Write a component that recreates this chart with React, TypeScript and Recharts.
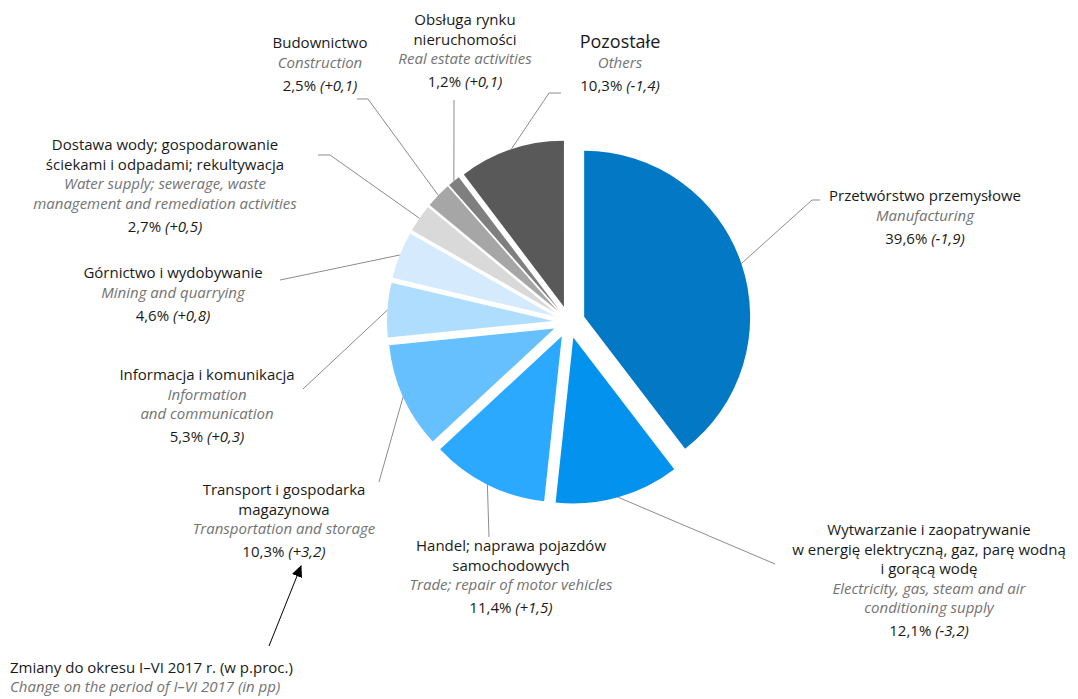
import React from 'react'
import { PieChart, Pie, Cell, Sector, Customized } from 'recharts'

// Struktura według sekcji PKD, I–VI 2018 (udział w %, zmiana w p.proc.)
const sectionsPl = [
  ['Przetwórstwo przemysłowe'],
  ['Wytwarzanie i zaopatrywanie', 'w energię elektryczną, gaz, parę wodną', 'i gorącą wodę'],
  ['Handel; naprawa pojazdów', 'samochodowych'],
  ['Transport i gospodarka', 'magazynowa'],
  ['Informacja i komunikacja'],
  ['Górnictwo i wydobywanie'],
  ['Dostawa wody; gospodarowanie', 'ściekami i odpadami; rekultywacja'],
  ['Budownictwo'],
  ['Obsługa rynku', 'nieruchomości'],
  ['Pozostałe'],
]

const sectionsEn = [
  ['Manufacturing'],
  ['Electricity, gas, steam and air', 'conditioning supply'],
  ['Trade; repair of motor vehicles'],
  ['Transportation and storage'],
  ['Information', 'and communication'],
  ['Mining and quarrying'],
  ['Water supply; sewerage, waste', 'management and remediation activities'],
  ['Construction'],
  ['Real estate activities'],
  ['Others'],
]

const shares = [39.6, 12.1, 11.4, 10.3, 5.3, 4.6, 2.7, 2.5, 1.2, 10.3]
const changes = [-1.9, -3.2, 1.5, 3.2, 0.3, 0.8, 0.5, 0.1, 0.1, -1.4]

const colors = [
  '#0379c6', '#0392ee', '#2aa9fe', '#66c0fe', '#aeddfe',
  '#d5ebfd', '#d9d9d9', '#a6a6a6', '#7f7f7f', '#595959',
]

const data = shares.map((share, i) => ({ name: sectionsEn[i][0], share }))

// where each callout sits: text centre x, first baseline y, leader elbow points
const callouts = [
  { x: 925, y: 201, leader: [[812, 200], [820, 200]] },
  { x: 929, y: 535, leader: [[775, 564]] },
  { x: 511, y: 551, leader: [[489, 537]] },
  { x: 284, y: 495, leader: [[379, 482]] },
  { x: 207, y: 380, leader: [[303, 389]] },
  { x: 173, y: 278, leader: [[280, 280]] },
  { x: 165, y: 150, leader: [[330, 155], [318, 155]] },
  { x: 320, y: 48, leader: [[368, 99], [357, 99]] },
  { x: 465, y: 25, leader: [[454, 100]] },
  { x: 620, y: 48, leader: [[549, 93], [561, 93]] },
]

const EXPLODE = 16
const LINE = 19.5
const FONT = "'Open Sans', sans-serif"

const fmt = (v: number) => v.toFixed(1).replace('.', ',')
const fmtChange = (v: number) => (v > 0 ? '+' : v < 0 ? '-' : '') + fmt(Math.abs(v))

const offsetFor = (midAngle: number) => {
  const rad = (-midAngle * Math.PI) / 180
  return [EXPLODE * Math.cos(rad), EXPLODE * Math.sin(rad)]
}

const polar = (cx: number, cy: number, r: number, angle: number) => {
  const rad = (-angle * Math.PI) / 180
  return [cx + r * Math.cos(rad), cy + r * Math.sin(rad)]
}

// every slice is pulled out along its own bisector
const ExplodedSlice = (props: any) => {
  const { cx, cy, midAngle } = props
  const [dx, dy] = offsetFor(midAngle)
  return <Sector {...props} cx={cx + dx} cy={cy + dy} />
}

const Callout = (props: any) => {
  const { cx, cy, midAngle, outerRadius, index } = props
  const [dx, dy] = offsetFor(midAngle)
  const start = polar(cx + dx, cy + dy, outerRadius, midAngle)
  const c = callouts[index]
  const pts = [start, ...c.leader].map((p) => p.join(',')).join(' ')
  const pl = sectionsPl[index]
  const en = sectionsEn[index]
  const valueY = c.y + (pl.length + en.length - 1) * LINE + 23
  return (
    <g>
      <polyline points={pts} fill="none" stroke="#8c8c8c" strokeWidth={1} />
      <text x={c.x} textAnchor="middle" fontFamily={FONT} fontSize={15}>
        {pl.map((t, i) => (
          <tspan key={'pl' + i} x={c.x} y={c.y + i * LINE} fill="#1a1a1a"
            fontSize={index === 9 ? 18 : 15}>
            {t}
          </tspan>
        ))}
        {en.map((t, i) => (
          <tspan key={'en' + i} x={c.x} y={c.y + (pl.length + i) * LINE}
            fill="#737373" fontStyle="italic">
            {t}
          </tspan>
        ))}
        <tspan x={c.x} y={valueY} fill="#1a1a1a">
          {fmt(shares[index]) + '% '}
        </tspan>
        <tspan fill="#1a1a1a" fontStyle="italic">
          {'(' + fmtChange(changes[index]) + ')'}
        </tspan>
      </text>
    </g>
  )
}

const ChangeNote = () => (
  <g fontFamily={FONT} fontSize={15}>
    <defs>
      <marker id="arrowHead" viewBox="0 0 10 10" refX="9" refY="5"
        markerWidth="12" markerHeight="12" markerUnits="userSpaceOnUse"
        orient="auto-start-reverse">
        <path d="M0,0.5 L10,5 L0,9.5 z" fill="#000" />
      </marker>
    </defs>
    <line x1={269} y1={646} x2={301} y2={566} stroke="#000" strokeWidth={1}
      markerEnd="url(#arrowHead)" />
    <text x={10} y={673} fill="#1a1a1a">Zmiany do okresu I–VI 2017 r. (w p.proc.)</text>
    <text x={10} y={692} fill="#737373" fontStyle="italic">
      Change on the period of I–VI 2017 (in pp)
    </text>
  </g>
)

export default function App() {
  return (
    <div style={{ position: 'absolute', left: 0, top: 0, background: '#fff' }}>
      <PieChart width={1078} height={699} margin={{ top: 0, right: 0, bottom: 0, left: 0 }}>
        <Pie
          data={data}
          dataKey="share"
          nameKey="name"
          cx={569}
          cy={322}
          outerRadius={166}
          startAngle={90}
          endAngle={-270}
          stroke="none"
          shape={ExplodedSlice}
          label={Callout}
          labelLine={false}
          isAnimationActive={false}
        >
          {data.map((d, i) => (
            <Cell key={d.name} fill={colors[i]} />
          ))}
        </Pie>
        <Customized component={ChangeNote} />
      </PieChart>
    </div>
  )
}
